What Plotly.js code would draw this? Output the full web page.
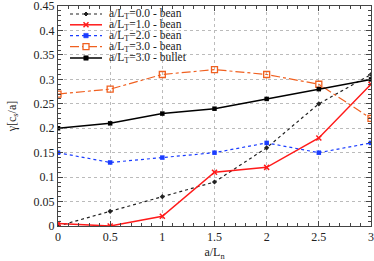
<!DOCTYPE html>
<html><head><meta charset="utf-8">
<script src="https://cdn.plot.ly/plotly-3.0.1.min.js"></script>
<style>body{margin:0;padding:0}#c{width:374px;height:261px}</style>
</head><body><div id="c"></div>
<script>
const x = [0, 0.5, 1, 1.5, 2, 2.5, 3];
const names = ["a/L<sub>T</sub>=0.0 - bean", "a/L<sub>T</sub>=1.0 - bean", "a/L<sub>T</sub>=2.0 - bean", "a/L<sub>T</sub>=3.0 - bean", "a/L<sub>T</sub>=3.0 - bullet"];
const lt0bean = [0, 0.03, 0.06, 0.09, 0.16, 0.25, 0.31];
const lt1bean = [0.005, 0, 0.02, 0.11, 0.12, 0.18, 0.29];
const lt2bean = [0.15, 0.13, 0.14, 0.15, 0.17, 0.15, 0.17];
const lt3bean = [0.27, 0.28, 0.31, 0.32, 0.31, 0.29, 0.22];
const lt3bullet = [0.2, 0.21, 0.23, 0.24, 0.26, 0.28, 0.30];
const xTicks = [0, 0.5, 1, 1.5, 2, 2.5, 3];
const xTickText = ["0","0.5","1","1.5","2","2.5","3"];
const yTicks = [0,0.05,0.1,0.15,0.2,0.25,0.3,0.35,0.4,0.45];
const yTickText = ["0","0.05","0.1","0.15","0.2","0.25","0.3","0.35","0.4","0.45"];

const styles = [
  {line: {color: "#222", width: 1.2, dash: "dot"}, marker: {symbol: "diamond", size: 4, color: "#222"}},
  {line: {color: "#ff1a1a", width: 1.5}, marker: {symbol: "x-thin", size: 5, line: {color: "#ff1a1a", width: 1.5}, color: "#ff1a1a"}},
  {line: {color: "#1a3cff", width: 1.2, dash: "dot"}, marker: {symbol: "square", size: 4.5, color: "#1a3cff"}},
  {line: {color: "#f06020", width: 1.2, dash: "dashdot"}, marker: {symbol: "square-open", size: 6, color: "#f06020", line: {width: 1.3}}},
  {line: {color: "#000", width: 1.5}, marker: {symbol: "square", size: 4.5, color: "#000"}}
];
const series = [lt0bean, lt1bean, lt2bean, lt3bean, lt3bullet];
const traces = series.map((y, i) => Object.assign({x, y, name: names[i], mode: "lines+markers", showlegend: false}, styles[i]));

const font = {family: "Liberation Serif, Times New Roman, serif", size: 12, color: "#222"};
const legFont = {family: font.family, size: 11.5, color: "#222"};

// custom legend (compact, gnuplot-like key)
const T = 6, W = 313, H = 220;
const rowsPx = [14, 24.8, 35.6, 46.6, 58];
const shapes = [], annotations = [];
rowsPx.forEach((py, i) => {
  const yp = (T + H - py) / H;
  const st = styles[i];
  shapes.push({type: "line", xref: "paper", yref: "paper", x0: 12 / W, x1: 44 / W, y0: yp, y1: yp,
    line: {color: st.line.color, width: st.line.width, dash: st.line.dash || "solid"}});
  const xm = 28 / W;
  const s = st.marker.size / 2;
  if (st.marker.symbol === "x-thin") {
    shapes.push({type: "path", xref: "paper", yref: "paper", xsizemode: "pixel", ysizemode: "pixel", xanchor: xm, yanchor: yp,
      path: `M${-s},${-s}L${s},${s}M${-s},${s}L${s},${-s}`, line: {color: st.line.color, width: 1.5}});
  } else if (st.marker.symbol === "diamond") {
    shapes.push({type: "path", xref: "paper", yref: "paper", xsizemode: "pixel", ysizemode: "pixel", xanchor: xm, yanchor: yp,
      path: `M${-s},0L0,${s}L${s},0L0,${-s}Z`, fillcolor: st.marker.color, line: {color: st.marker.color, width: 1}});
  } else if (st.marker.symbol === "square-open") {
    shapes.push({type: "rect", xref: "paper", yref: "paper", xsizemode: "pixel", ysizemode: "pixel", xanchor: xm, yanchor: yp,
      x0: -s, x1: s, y0: -s, y1: s, fillcolor: "#fff", line: {color: st.marker.color, width: 1.3}});
  } else {
    shapes.push({type: "rect", xref: "paper", yref: "paper", xsizemode: "pixel", ysizemode: "pixel", xanchor: xm, yanchor: yp,
      x0: -s, x1: s, y0: -s, y1: s, fillcolor: st.marker.color, line: {color: st.marker.color, width: 0.5}});
  }
  annotations.push({xref: "paper", yref: "paper", x: 50 / W, y: yp, xanchor: "left", yanchor: "middle",
    text: names[i], showarrow: false, font: legFont, borderpad: 0});
});

const axisCommon = {
  showline: true, linecolor: "#444", linewidth: 1, mirror: "allticks",
  ticks: "inside", ticklen: 5, tickcolor: "#444",
  showgrid: true, gridcolor: "#bbb", griddash: "dot", gridwidth: 1,
  zeroline: false, tickfont: font, ticklabeloverflow: "allow"
};
const layout = {
  width: 374, height: 261,
  margin: {l: 58, r: 3, t: T, b: 35},
  paper_bgcolor: "#fff", plot_bgcolor: "#fff",
  font: font,
  showlegend: false,
  shapes, annotations,
  xaxis: Object.assign({}, axisCommon, {range: [0, 3.0001], tickvals: xTicks, ticktext: xTickText,
    minor: {dtick: 0.1, ticks: "inside", ticklen: 3, tickcolor: "#444", showgrid: false},
    title: {text: "a/L<sub>n</sub>", font: font, standoff: 6}}),
  yaxis: Object.assign({}, axisCommon, {range: [0, 0.4501], tickvals: yTicks, ticktext: yTickText,
    minor: {dtick: 0.01, ticks: "inside", ticklen: 3, tickcolor: "#444", showgrid: false},
    title: {text: "γ[c<sub>s</sub>/a]", font: font, standoff: 14}})
};
Plotly.newPlot("c", traces, layout, {staticPlot: true, displayModeBar: false});
</script></body></html>
